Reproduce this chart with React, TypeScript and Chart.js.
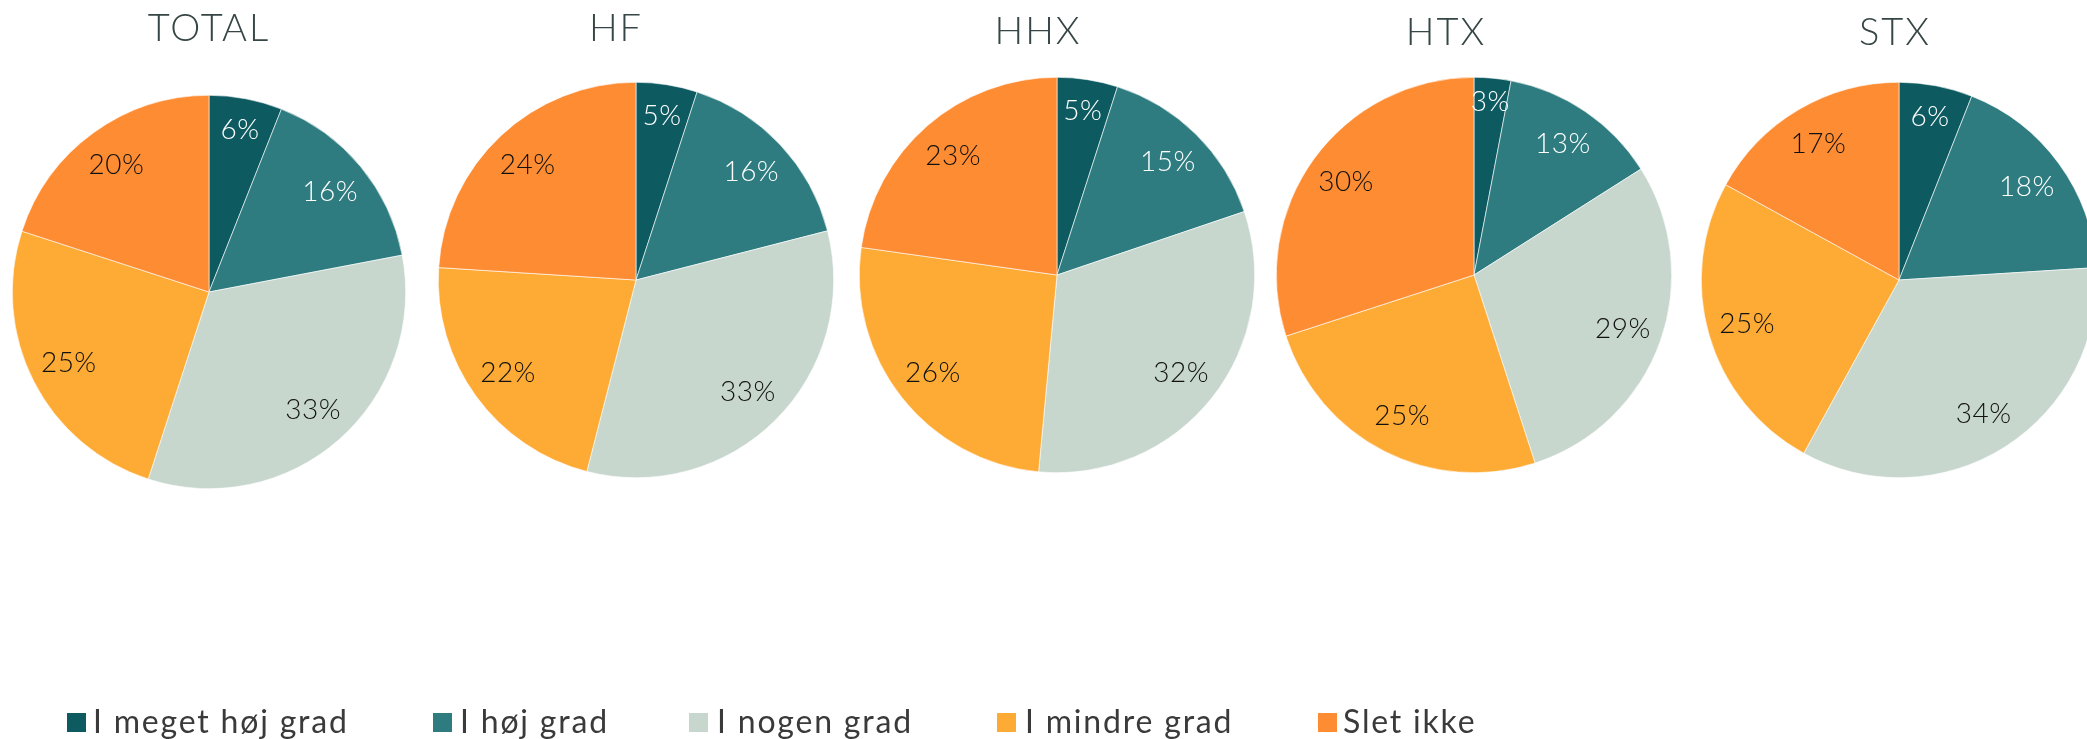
import React, { useEffect, useRef } from "react";
import { Chart, registerables } from "chart.js";

Chart.register(...registerables);

const categories = ["I meget høj grad", "I høj grad", "I nogen grad", "I mindre grad", "Slet ikke"];
const groups = ["TOTAL", "HF", "HHX", "HTX", "STX"];
const totalValues = [6, 16, 33, 25, 20];
const hfValues = [5, 16, 33, 22, 24];
const hhxValues = [5, 15, 32, 26, 23];
const htxValues = [3, 13, 29, 25, 30];
const stxValues = [6, 18, 34, 25, 17];
const seriesValues = [totalValues, hfValues, hhxValues, htxValues, stxValues];

const colors = ["#0d5b61", "#2e7c80", "#c7d7ce", "#feab36", "#fe8c33"];
const labelColors = ["#ffffff", "#ffffff", "#111111", "#111111", "#111111"];

const W = 2087;
const H = 739;
const CW = 2200;

const layout = [
  { cx: 209, cy: 292, r: 197, tx: 208, ty: 29 },
  { cx: 636, cy: 280, r: 198, tx: 615, ty: 29 },
  { cx: 1057, cy: 275, r: 198, tx: 1037, ty: 32 },
  { cx: 1474, cy: 275, r: 198, tx: 1445, ty: 33 },
  { cx: 1899, cy: 280, r: 198, tx: 1894, ty: 33 },
];

const legendSquareX = [67, 433, 689, 997, 1318];
const legendTextX = [93, 460, 717, 1025, 1343];

function makePlugins(idx: number) {
  const lay = layout[idx];
  return [
    {
      id: "titleAndLabels",
      afterDatasetsDraw(chart: any) {
        const ctx = chart.ctx;
        ctx.save();
        // title
        ctx.font = "300 38px Lato";
        (ctx as any).letterSpacing = "2px";
        ctx.fillStyle = "#364545";
        ctx.textAlign = "center";
        ctx.textBaseline = "middle";
        ctx.fillText(groups[idx], lay.tx + 1, lay.ty);
        // labels
        const meta = chart.getDatasetMeta(0);
        const vals = chart.data.datasets[0].data;
        ctx.font = "300 28px Lato";
        (ctx as any).letterSpacing = "0.5px";
        meta.data.forEach((arc: any, i: number) => {
          const p = arc.getProps(["x", "y", "startAngle", "endAngle", "outerRadius"], true);
          const span = p.endAngle - p.startAngle;
          const mid = (p.startAngle + p.endAngle) / 2;
          let frac = 0.8;
          if (span < 0.25) frac = 0.88;
          else if (span < 0.42) frac = 0.84;
          const x = p.x + Math.cos(mid) * p.outerRadius * frac;
          const y = p.y + Math.sin(mid) * p.outerRadius * frac;
          ctx.fillStyle = labelColors[i];
          ctx.fillText(vals[i] + "%", x, y);
        });
        // legend on first chart
        if (idx === 0) {
          ctx.font = "32px Lato";
          (ctx as any).letterSpacing = "1.8px";
          ctx.textAlign = "left";
          ctx.textBaseline = "alphabetic";
          categories.forEach((c, i) => {
            ctx.fillStyle = colors[i];
            ctx.fillRect(legendSquareX[i], 713, 19, 19);
            ctx.fillStyle = "#3a3a3a";
            ctx.fillText(c, legendTextX[i], 733);
          });
        }
        ctx.restore();
      },
    },
  ];
}

function Pie({ idx }: { idx: number }) {
  const ref = useRef<HTMLCanvasElement>(null);
  useEffect(() => {
    const lay = layout[idx];
    const chart = new Chart(ref.current as HTMLCanvasElement, {
      type: "pie",
      data: {
        labels: categories,
        datasets: [
          {
            data: seriesValues[idx],
            backgroundColor: colors,
            borderColor: "#ffffff",
            borderWidth: 0.6,
          },
        ],
      },
      options: {
        responsive: false,
        maintainAspectRatio: false,
        animation: false,
        events: [],
        layout: {
          padding: {
            left: lay.cx - lay.r,
            top: lay.cy - lay.r,
            right: CW - lay.cx - lay.r,
            bottom: H - lay.cy - lay.r,
          },
        },
        plugins: {
          legend: { display: false },
          title: { display: false },
          tooltip: { enabled: false },
        },
      },
      plugins: makePlugins(idx) as any,
    });
    return () => chart.destroy();
  }, [idx]);
  return (
    <canvas
      ref={ref}
      width={CW}
      height={H}
      style={{ position: "absolute", left: 0, top: 0, width: CW, height: H }}
    />
  );
}

export default function App() {
  return (
    <div
      style={{
        position: "fixed",
        left: 0,
        top: 0,
        width: W,
        height: H,
        overflow: "hidden",
        background: "#ffffff",
      }}
    >
      {groups.map((g, i) => (
        <Pie key={g} idx={i} />
      ))}
    </div>
  );
}
